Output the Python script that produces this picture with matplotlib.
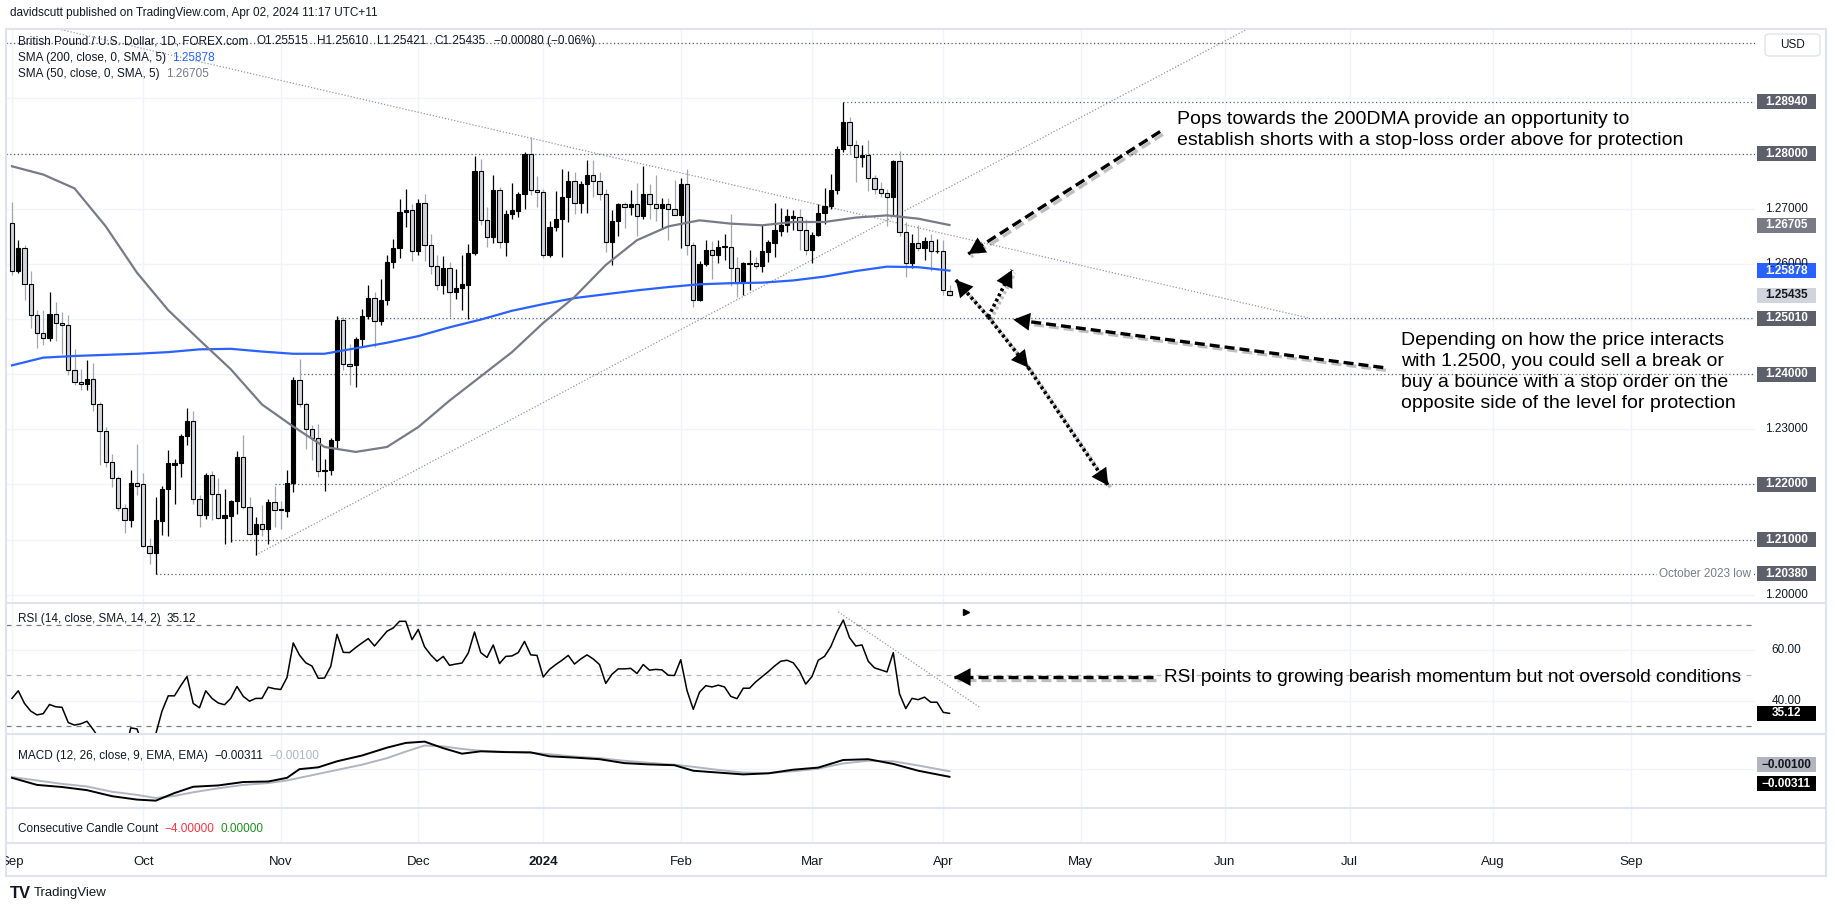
import numpy as np
import pandas as pd
import matplotlib
matplotlib.use('Agg')
import matplotlib.pyplot as plt
import matplotlib.patheffects as pe
from matplotlib.patches import Rectangle, FancyBboxPatch
from matplotlib.lines import Line2D
from matplotlib.transforms import Bbox, TransformedBbox
from matplotlib.offsetbox import TextArea, HPacker, AnnotationBbox

plt.rcParams['font.family'] = ['Liberation Sans', 'DejaVu Sans']

# ---------------- data (GBP/USD daily, Sep 1 2023 -> Apr 2 2024) ----------------
opens = [
    1.2674, 1.2588, 1.2629, 1.2564, 1.2508, 1.2474, 1.2466, 1.2510, 1.2492, 1.2490,
    1.2408, 1.2385, 1.2383, 1.2392, 1.2345, 1.2297, 1.2240, 1.2211, 1.2158, 1.2136,
    1.2203, 1.2200, 1.2088, 1.2076, 1.2134, 1.2191, 1.2236, 1.2238, 1.2287, 1.2315,
    1.2174, 1.2144, 1.2218, 1.2183, 1.2140, 1.2143, 1.2170, 1.2249, 1.2159, 1.2111,
    1.2129, 1.2120, 1.2168, 1.2155, 1.2152, 1.2203, 1.2390, 1.2345, 1.2301, 1.2285,
    1.2224, 1.2227, 1.2280, 1.2499, 1.2418, 1.2416, 1.2463, 1.2506, 1.2539, 1.2496,
    1.2534, 1.2604, 1.2628, 1.2695, 1.2697, 1.2624, 1.2711, 1.2634, 1.2597, 1.2561,
    1.2593, 1.2549, 1.2557, 1.2561, 1.2619, 1.2768, 1.2680, 1.2648, 1.2734, 1.2639,
    1.2691, 1.2696, 1.2726, 1.2800, 1.2734, 1.2731, 1.2617, 1.2667, 1.2682, 1.2721,
    1.2750, 1.2711, 1.2744, 1.2762, 1.2750, 1.2727, 1.2639, 1.2677, 1.2708, 1.2704,
    1.2709, 1.2687, 1.2726, 1.2708, 1.2702, 1.2709, 1.2700, 1.2689, 1.2744, 1.2635,
    1.2535, 1.2599, 1.2626, 1.2617, 1.2630, 1.2631, 1.2593, 1.2565, 1.2600, 1.2602,
    1.2596, 1.2622, 1.2638, 1.2660, 1.2671, 1.2684, 1.2685, 1.2662, 1.2626, 1.2653,
    1.2693, 1.2705, 1.2734, 1.2809, 1.2857, 1.2815, 1.2793, 1.2798, 1.2755, 1.2735,
    1.2729, 1.2721, 1.2786, 1.2658, 1.2602, 1.2637, 1.2628, 1.2641, 1.2623, 1.2624,
    1.25515]
highs = [
    1.2713, 1.2644, 1.2634, 1.2588, 1.2516, 1.2516, 1.2549, 1.2530, 1.2513, 1.2507,
    1.2446, 1.2410, 1.2425, 1.2420, 1.2350, 1.2304, 1.2256, 1.2216, 1.2165, 1.2226,
    1.2273, 1.2220, 1.2102, 1.2178, 1.2197, 1.2262, 1.2247, 1.2292, 1.2338, 1.2333,
    1.2180, 1.2220, 1.2224, 1.2211, 1.2192, 1.2172, 1.2261, 1.2289, 1.2177, 1.2141,
    1.2162, 1.2174, 1.2198, 1.2170, 1.2226, 1.2395, 1.2428, 1.2350, 1.2307, 1.2310,
    1.2247, 1.2285, 1.2505, 1.2503, 1.2455, 1.2467, 1.2519, 1.2561, 1.2549, 1.2573,
    1.2616, 1.2646, 1.2717, 1.2735, 1.2709, 1.2717, 1.2726, 1.2654, 1.2616, 1.2614,
    1.2604, 1.2591, 1.2617, 1.2636, 1.2795, 1.2791, 1.2703, 1.2762, 1.2740, 1.2697,
    1.2746, 1.2730, 1.2803, 1.2830, 1.2760, 1.2736, 1.2678, 1.2732, 1.2772, 1.2768,
    1.2766, 1.2750, 1.2788, 1.2788, 1.2767, 1.2736, 1.2697, 1.2711, 1.2713, 1.2734,
    1.2747, 1.2777, 1.2744, 1.2761, 1.2720, 1.2720, 1.2753, 1.2756, 1.2773, 1.2640,
    1.2605, 1.2643, 1.2641, 1.2644, 1.2655, 1.2691, 1.2613, 1.2604, 1.2626, 1.2613,
    1.2670, 1.2643, 1.2711, 1.2702, 1.2700, 1.2698, 1.2700, 1.2682, 1.2658, 1.2708,
    1.2737, 1.2763, 1.2813, 1.2894, 1.2866, 1.2825, 1.2815, 1.2824, 1.2761, 1.2749,
    1.2735, 1.2788, 1.2804, 1.2676, 1.2654, 1.2670, 1.2649, 1.2655, 1.2646, 1.2644,
    1.25610]
lows = [
    1.2579, 1.2584, 1.2535, 1.2484, 1.2448, 1.2452, 1.2460, 1.2460, 1.2437, 1.2398,
    1.2381, 1.2372, 1.2372, 1.2333, 1.2235, 1.2232, 1.2196, 1.2152, 1.2112, 1.2122,
    1.2180, 1.2086, 1.2056, 1.2038, 1.2108, 1.2106, 1.2165, 1.2214, 1.2271, 1.2165,
    1.2123, 1.2138, 1.2135, 1.2138, 1.2092, 1.2096, 1.2147, 1.2155, 1.2108, 1.2072,
    1.2106, 1.2092, 1.2123, 1.2120, 1.2141, 1.2186, 1.2340, 1.2265, 1.2244, 1.2214,
    1.2189, 1.2217, 1.2267, 1.2407, 1.2380, 1.2377, 1.2449, 1.2500, 1.2449, 1.2489,
    1.2525, 1.2593, 1.2610, 1.2667, 1.2605, 1.2616, 1.2605, 1.2581, 1.2552, 1.2546,
    1.2504, 1.2537, 1.2516, 1.2500, 1.2616, 1.2670, 1.2631, 1.2638, 1.2628, 1.2614,
    1.2682, 1.2685, 1.2700, 1.2725, 1.2703, 1.2611, 1.2613, 1.2660, 1.2613, 1.2676,
    1.2691, 1.2692, 1.2692, 1.2721, 1.2715, 1.2622, 1.2598, 1.2650, 1.2665, 1.2688,
    1.2650, 1.2682, 1.2682, 1.2678, 1.2664, 1.2643, 1.2688, 1.2628, 1.2617, 1.2521,
    1.2532, 1.2596, 1.2572, 1.2602, 1.2607, 1.2560, 1.2540, 1.2543, 1.2553, 1.2590,
    1.2585, 1.2604, 1.2613, 1.2651, 1.2658, 1.2661, 1.2625, 1.2616, 1.2602, 1.2650,
    1.2673, 1.2700, 1.2726, 1.2803, 1.2799, 1.2749, 1.2776, 1.2732, 1.2727, 1.2721,
    1.2668, 1.2686, 1.2650, 1.2576, 1.2593, 1.2623, 1.2607, 1.2588, 1.2620, 1.2543,
    1.25421]
closes = [
    1.2588, 1.2629, 1.2564, 1.2508, 1.2474, 1.2466, 1.2510, 1.2492, 1.2490, 1.2408,
    1.2385, 1.2383, 1.2392, 1.2345, 1.2297, 1.2240, 1.2211, 1.2158, 1.2136, 1.2203,
    1.2198, 1.2088, 1.2076, 1.2135, 1.2191, 1.2238, 1.2239, 1.2287, 1.2315, 1.2174,
    1.2144, 1.2218, 1.2183, 1.2140, 1.2144, 1.2170, 1.2249, 1.2160, 1.2111, 1.2129,
    1.2120, 1.2168, 1.2154, 1.2153, 1.2203, 1.2390, 1.2345, 1.2301, 1.2285, 1.2224,
    1.2227, 1.2280, 1.2499, 1.2418, 1.2415, 1.2463, 1.2506, 1.2539, 1.2496, 1.2534,
    1.2604, 1.2628, 1.2695, 1.2697, 1.2624, 1.2711, 1.2634, 1.2597, 1.2561, 1.2593,
    1.2549, 1.2557, 1.2563, 1.2619, 1.2768, 1.2680, 1.2648, 1.2734, 1.2639, 1.2691,
    1.2697, 1.2726, 1.2799, 1.2734, 1.2731, 1.2617, 1.2667, 1.2682, 1.2721, 1.2750,
    1.2711, 1.2744, 1.2762, 1.2750, 1.2727, 1.2639, 1.2677, 1.2708, 1.2704, 1.2709,
    1.2687, 1.2726, 1.2708, 1.2702, 1.2709, 1.2700, 1.2689, 1.2744, 1.2635, 1.2535,
    1.2599, 1.2626, 1.2617, 1.2631, 1.2632, 1.2593, 1.2565, 1.2601, 1.2602, 1.2596,
    1.2623, 1.2640, 1.2661, 1.2671, 1.2686, 1.2686, 1.2662, 1.2626, 1.2653, 1.2693,
    1.2705, 1.2734, 1.2809, 1.2857, 1.2815, 1.2793, 1.2798, 1.2755, 1.2735, 1.2729,
    1.2721, 1.2786, 1.2658, 1.2602, 1.2637, 1.2628, 1.2641, 1.2624, 1.2624, 1.2552,
    1.25435]

# moving averages read every 5 bars
sma_idx = list(range(0, 151, 5))
sma200 = [1.2416, 1.2430, 1.2433, 1.2435, 1.2437, 1.2440, 1.2445, 1.2446, 1.2441, 1.2437,
          1.2437, 1.2447, 1.2457, 1.2469, 1.2485, 1.2499, 1.2515, 1.2527, 1.2538, 1.2545,
          1.2552, 1.2558, 1.2563, 1.2565, 1.2566, 1.2570, 1.2577, 1.2587, 1.2595, 1.2594,
          1.25878]
sma50 = [1.2777, 1.2762, 1.2737, 1.2668, 1.2584, 1.2516, 1.2462, 1.2409, 1.2345, 1.2305,
         1.2268, 1.2259, 1.2268, 1.2304, 1.2352, 1.2396, 1.2440, 1.2493, 1.2540, 1.2598,
         1.2643, 1.2668, 1.2679, 1.2673, 1.2670, 1.2676, 1.2676, 1.2684, 1.2688, 1.2682,
         1.26705]

rsi = [41.0, 44.0, 39.0, 36.0, 34.5, 35.0, 38.6, 37.7, 37.5, 31.5,
       30.5, 31.0, 32.0, 28.7, 25.0, 22.0, 20.5, 18.0, 18.5, 29.4,
       29.0, 22.0, 21.0, 27.0, 36.0, 42.0, 42.0, 46.0, 49.6, 39.0,
       37.3, 44.0, 41.0, 39.2, 38.5, 41.0, 45.7, 41.8, 39.9, 41.0,
       41.0, 45.4, 44.8, 44.5, 49.2, 62.8, 58.0, 55.0, 53.7, 48.9,
       49.0, 53.6, 66.2, 59.1, 59.0, 61.0, 62.8, 64.5, 61.6, 64.5,
       67.4, 68.7, 71.3, 71.3, 64.1, 68.1, 61.3, 58.1, 55.6, 57.5,
       54.0, 54.5, 54.9, 58.8, 67.1, 59.0, 57.1, 62.0, 54.7, 57.5,
       57.7, 59.0, 63.4, 58.1, 57.9, 49.4, 52.4, 54.3, 56.0, 57.9,
       54.5, 56.5, 58.1, 56.5, 54.3, 46.9, 50.5, 52.6, 52.6, 52.8,
       50.8, 54.3, 52.1, 52.4, 52.2, 50.1, 50.0, 56.2, 44.1, 36.7,
       43.4, 46.0, 45.5, 46.2, 45.5, 41.8, 40.9, 45.0, 45.0, 47.5,
       49.5, 51.5, 53.7, 55.6, 56.0, 55.0, 51.7, 46.6, 49.6, 56.0,
       57.5, 61.3, 67.1, 71.8, 64.9, 61.6, 62.0, 55.6, 53.0, 52.2,
       51.4, 59.0, 42.8, 37.0, 41.0, 40.5, 41.5, 39.5, 39.5, 35.5,
       35.12]

macd_idx = [0, 4, 8, 12, 16, 20, 23, 26, 29, 33, 37, 41, 44, 46, 49, 52, 56, 60, 63, 66, 69,
            72, 75, 79, 83, 86, 90, 94, 98, 102, 106, 109, 113, 117, 121, 125, 129, 133, 137,
            141, 145, 150]
macd = [-0.0035, -0.0062, -0.0070, -0.0082, -0.0105, -0.0118, -0.0122, -0.0093, -0.0069,
        -0.0064, -0.0051, -0.0049, -0.0035, -0.0002, 0.0005, 0.0028, 0.0050, 0.0080, 0.0098,
        0.0103, 0.0078, 0.0057, 0.0066, 0.0063, 0.0062, 0.0047, 0.0042, 0.0036, 0.0021,
        0.0016, 0.0013, -0.0008, -0.0015, -0.0022, -0.0018, -0.0004, 0.0004, 0.0033, 0.0036,
        0.0018, -0.0008, -0.00311]
signal = [-0.0032, -0.0045, -0.0058, -0.0068, -0.0088, -0.0100, -0.0112, -0.0104, -0.0090,
          -0.0075, -0.0062, -0.0055, -0.0045, -0.0035, -0.0020, -0.0005, 0.0015, 0.0040,
          0.0065, 0.0088, 0.0085, 0.0075, 0.0068, 0.0064, 0.0060, 0.0055, 0.0046, 0.0040,
          0.0030, 0.0022, 0.0015, 0.0007, -0.0005, -0.0015, -0.0017, -0.0010, 0.0000, 0.0020,
          0.0030, 0.0028, 0.0012, -0.0010]

# horizontal levels and the bar they start from
levels = [1.3000, 1.2894, 1.2800, 1.2501, 1.2400, 1.2200, 1.2100, 1.2038]
level_start = [-1, 133, -1, 52, 46, 42, 35, 23]

# drawings: trendlines (bar, value) and arrows
down_trend = [(7.4, 1.3026), (207.4, 1.2502)]
up_trend = [(39, 1.2072), (200, 1.3040)]
rsi_trend = [(132.2, 75.0), (155.0, 37.2)]
pops_arrow = [(183.7, 1.2840), (153.0, 1.2618)]
hub = (156.2, 1.2504)
dotted_tips = [(151.0, 1.2571), (160.0, 1.2589), (162.6, 1.2412)]
lower_arrow = [(162.6, 1.2412), (175.4, 1.2198)]
level_arrow = [(219.4, 1.2412), (160.2, 1.2499)]
rsi_arrow = [(182.6, 49.4), (150.7, 49.4)]

# ---------------- layout ----------------
W, H = 1835, 911
L_PX, R_PX = 6, 1755
BAR_PX = 6.25
X0 = -0.96
X1 = X0 + (R_PX - L_PX) / BAR_PX
GRID = '#f0f3fa'
TXT = '#131722'

dates = pd.bdate_range('2023-09-01', '2024-10-10')
dates = dates[~dates.isin(pd.to_datetime(['2023-12-25', '2024-01-01']))]
month_pos, month_lab = [], []
for i in range(len(dates)):
    if i == 0 or dates[i].month != dates[i - 1].month:
        month_pos.append(i)
        month_lab.append(str(dates[i].year) if dates[i].month == 1 else dates[i].strftime('%b'))

fig = plt.figure(figsize=(W / 100, H / 100), dpi=100)


def add_pane(top, bottom):
    ax = fig.add_axes([L_PX / W, 1 - bottom / H, (R_PX - L_PX) / W, (bottom - top) / H])
    ax.set_xlim(X0, X1)
    for s in ax.spines.values():
        s.set_visible(False)
    ax.set_xticks([])
    ax.set_yticks([])
    ax.patch.set_alpha(0)
    for m in month_pos:
        ax.axvline(m, color=GRID, lw=1, zorder=0)
    return ax


ax_p = add_pane(29, 603)
ax_r = add_pane(603, 734)
ax_m = add_pane(734, 808)
ax_c = add_pane(808, 843)
ax_p.set_ylim(1.1985, 1.3026)
ax_r.set_ylim(27.0, 78.5)
ax_m.set_ylim(-0.0150, 0.0132)
pane_px = {ax_p: 574, ax_r: 131, ax_m: 74}

shadow = [pe.SimpleLineShadow(offset=(2, -2), alpha=0.25), pe.Normal()]


def tag(ax, y, txt, fc=None, tc=TXT):
    lo, hi = ax.get_ylim()
    h = 15 * (hi - lo) / pane_px[ax]
    tr = ax.get_yaxis_transform()
    span = R_PX - L_PX
    if fc:
        ax.add_patch(Rectangle((1 + 2 / span, y - h / 2), 59 / span, h, transform=tr,
                               fc=fc, ec='none', clip_on=False, zorder=20))
    ax.text(1 + 31.5 / span, y, txt, transform=tr, ha='center', va='center', fontsize=8.5,
            color=tc, fontweight='bold' if fc else 'normal', clip_on=False, zorder=21)


def arrow(ax, start, tip, ls, lw=2.4):
    ax.plot([start[0], tip[0]], [start[1], tip[1]], color='black', lw=lw, ls=ls,
            dash_capstyle='butt', path_effects=shadow, zorder=8)
    back = (tip[0] + 0.03 * (start[0] - tip[0]), tip[1] + 0.03 * (start[1] - tip[1]))
    ax.annotate('', xy=tip, xytext=back, zorder=9,
                arrowprops=dict(arrowstyle='-|>,head_length=0.75,head_width=0.4', color='black',
                                lw=0, mutation_scale=16, shrinkA=0, shrinkB=0))


# ---------------- price pane ----------------
for p in np.arange(1.20, 1.301, 0.01):
    ax_p.axhline(p, color=GRID, lw=1, zorder=0)
for lv, st in zip(levels, level_start):
    ax_p.hlines(lv, max(st, X0), X1, color='#5d606b', lw=0.9, ls=(0, (1, 2)), zorder=1.5)

o, h, l, c = map(np.array, (opens, highs, lows, closes))
x = np.arange(len(o))
up = c >= o
ax_p.vlines(x[up], l[up], h[up], color='black', lw=0.9, zorder=2)
ax_p.vlines(x[~up], l[~up], h[~up], color='#a3a6af', lw=0.9, zorder=2)
body_lo = np.minimum(o, c)
body_h = np.maximum(np.abs(c - o), 0.00012)
ax_p.bar(x[up], body_h[up], 0.68, bottom=body_lo[up], color='black', edgecolor='black', lw=0.8, zorder=3)
ax_p.bar(x[~up], body_h[~up], 0.68, bottom=body_lo[~up], color='#d1d4dc', edgecolor='black', lw=0.8, zorder=3)

ax_p.plot(sma_idx, sma200, color='#2962ff', lw=1.6, zorder=4)
ax_p.plot(sma_idx, sma50, color='#787b86', lw=1.6, zorder=4)

for tl in (down_trend, up_trend):
    ax_p.plot([tl[0][0], tl[1][0]], [tl[0][1], tl[1][1]], color='#9598a1', lw=0.9,
              ls=(0, (1, 1.5)), zorder=1.8)

ax_p.text(0.9977, 1.2038, 'October 2023 low', transform=ax_p.get_yaxis_transform(), ha='right',
          va='center', fontsize=8.5, color='#787b86', zorder=5,
          bbox=dict(boxstyle='square,pad=0.15', fc='white', ec='none'))

arrow(ax_p, pops_arrow[0], pops_arrow[1], (0, (3, 1.5)))
for tip in dotted_tips:
    arrow(ax_p, hub, tip, (0, (0.8, 0.8)), lw=2.6)
arrow(ax_p, lower_arrow[0], lower_arrow[1], (0, (0.8, 0.8)), lw=2.6)
arrow(ax_p, level_arrow[0], level_arrow[1], (0, (3, 1.5)))

ax_p.text(186.4, 1.2843, 'Pops towards the 200DMA provide an opportunity to\n'
          'establish shorts with a stop-loss order above for protection',
          fontsize=14, color='black', va='center', ha='left', linespacing=1.33, zorder=10)
ax_p.text(222.2, 1.2404, 'Depending on how the price interacts\nwith 1.2500, you could sell a break or\n'
          'buy a bounce with a stop order on the\nopposite side of the level for protection',
          fontsize=14, color='black', va='center', ha='left', linespacing=1.33, zorder=10)

for p, t in [(1.27, '1.27000'), (1.26, '1.26000'), (1.23, '1.23000'), (1.20, '1.20000')]:
    tag(ax_p, p, t)
dark = '#5d606b'
tag(ax_p, 1.2894, '1.28940', dark, 'white')
tag(ax_p, 1.28, '1.28000', dark, 'white')
tag(ax_p, sma50[-1], '1.26705', '#787b86', 'white')
tag(ax_p, sma200[-1], '1.25878', '#2962ff', 'white')
tag(ax_p, closes[-1], '1.25435', '#d1d4dc', TXT)
for lv, t in [(1.2501, '1.25010'), (1.24, '1.24000'), (1.22, '1.22000'), (1.21, '1.21000'), (1.2038, '1.20380')]:
    tag(ax_p, lv, t, dark, 'white')

# ---------------- RSI pane ----------------
for g in (60, 40):
    ax_r.axhline(g, color=GRID, lw=1, zorder=0)
ax_r.axhline(70, color='#787b86', lw=0.9, ls=(0, (4, 4)), zorder=1)
ax_r.axhline(30, color='#787b86', lw=0.9, ls=(0, (4, 4)), zorder=1)
ax_r.axhline(50, color='#b2b5be', lw=0.9, ls=(0, (4, 4)), zorder=1)
ax_r.plot(x, rsi, color='black', lw=1.1, zorder=3)
ax_r.plot([rsi_trend[0][0], rsi_trend[1][0]], [rsi_trend[0][1], rsi_trend[1][1]],
          color='#9598a1', lw=0.9, ls=(0, (1, 1.5)), zorder=2)
ax_r.plot(152.6, 74.9, marker='>', ms=4, color='black', zorder=4)
arrow(ax_r, rsi_arrow[0], rsi_arrow[1], (0, (3, 1.5)))
ax_r.text(184.3, 49.4, 'RSI points to growing bearish momentum but not oversold conditions',
          fontsize=13.7, color='black', va='center', ha='left', zorder=10)
tag(ax_r, 60, '60.00')
tag(ax_r, 40, '40.00')
tag(ax_r, rsi[-1], '35.12', 'black', 'white')

# ---------------- MACD pane ----------------
ax_m.axhline(0, color=GRID, lw=1, zorder=0)
ax_m.plot(macd_idx, signal, color='#b2b5be', lw=1.4, zorder=2)
ax_m.plot(macd_idx, macd, color='black', lw=1.4, zorder=3)
mid = (macd[-1] + signal[-1]) / 2
gap = 19 * (0.0132 + 0.0150) / 74
tag(ax_m, mid + gap / 2, '\u22120.00100', '#b2b5be', TXT)
tag(ax_m, mid - gap / 2, '\u22120.00311', 'black', 'white')

# ---------------- frame, separators, texts ----------------
fig.add_artist(Rectangle((L_PX / W, 1 - 876 / H), (1826 - L_PX) / W, (876 - 29) / H,
                         transform=fig.transFigure, fill=False, ec='#e0e3eb', lw=1.5))
for yy in (603, 734, 808, 843):
    fig.add_artist(Line2D([L_PX / W, 1826 / W], [1 - yy / H] * 2, color='#e0e3eb', lw=1.5))

fig.add_artist(FancyBboxPatch((1765 / W, 1 - 56 / H), 55 / W, 22 / H,
                              boxstyle='round,pad=0,rounding_size=0.003',
                              transform=fig.transFigure, fc='white', ec='#e0e3eb', lw=1))
fig.text(1792.5 / W, 1 - 45 / H, 'USD', fontsize=8.5, color=TXT, ha='center', va='center')

clip = TransformedBbox(Bbox.from_extents(L_PX / W, 0, R_PX / W, 1), fig.transFigure)
for m, lab in zip(month_pos, month_lab):
    if m > X1:
        continue
    t = fig.text((L_PX + (m - X0) * BAR_PX) / W, 1 - 862 / H, lab, ha='center', va='center',
                 fontsize=9.5, color=TXT, fontweight='bold' if lab == '2024' else 'normal')
    t.set_clip_box(clip)
    t.set_clip_on(True)


def legend_line(px, py, parts, sep=4.5):
    boxes = [TextArea(t, textprops=dict(color=col, fontsize=8.5)) for t, col in parts]
    pack = HPacker(children=boxes, align='baseline', pad=0, sep=sep)
    fig.add_artist(AnnotationBbox(pack, (px / W, 1 - py / H), xycoords='figure fraction',
                                  box_alignment=(0, 0.5), frameon=False, pad=0))


fig.text(10 / W, 1 - 13 / H, 'davidscutt published on TradingView.com, Apr 02, 2024 11:17 UTC+11',
         fontsize=8.5, color=TXT, va='center')
legend_line(18, 41, [('British Pound / U.S. Dollar, 1D, FOREX.com', TXT), ('O1.25515', TXT),
                     ('H1.25610', TXT), ('L1.25421', TXT), ('C1.25435', TXT),
                     ('\u22120.00080 (\u22120.06%)', TXT)], sep=6)
legend_line(18, 58, [('SMA (200, close, 0, SMA, 5)', TXT), ('1.25878', '#2962ff')])
legend_line(18, 74, [('SMA (50, close, 0, SMA, 5)', TXT), ('1.26705', '#787b86')])
legend_line(18, 619, [('RSI (14, close, SMA, 14, 2)', TXT), ('35.12', TXT)])
legend_line(18, 756, [('MACD (12, 26, close, 9, EMA, EMA)', TXT), ('\u22120.00311', TXT),
                      ('\u22120.00100', '#b2b5be')])
legend_line(18, 829, [('Consecutive Candle Count', TXT), ('\u22124.00000', '#f23645'),
                      ('0.00000', '#1e8c1e')])

fig.text(10 / W, 1 - 893 / H, 'TV', fontsize=12, fontweight='heavy', color=TXT, va='center')
fig.text(34 / W, 1 - 893 / H, 'TradingView', fontsize=9.5, color=TXT, va='center')

fig.savefig('out.png', dpi=100, facecolor='white')
